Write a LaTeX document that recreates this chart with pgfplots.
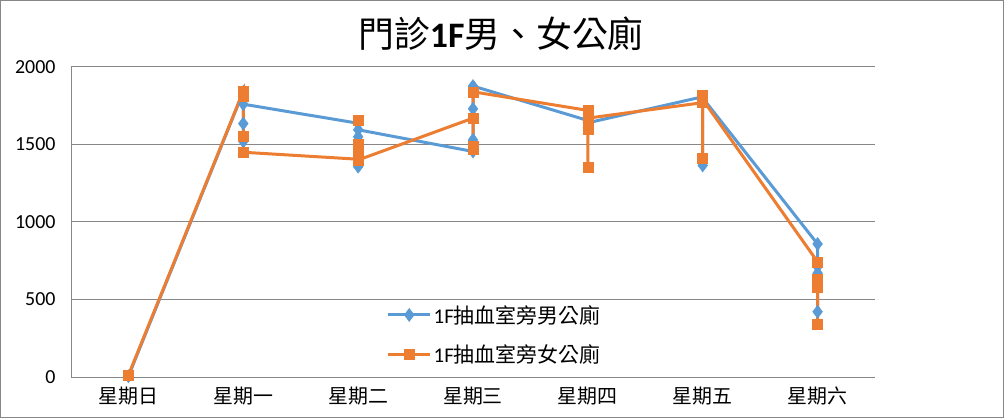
\documentclass[border=0pt]{standalone}
\usepackage{fontspec}
\setmainfont{Carlito}
\newfontfamily\cjk{Noto Sans CJK TC}
\usepackage{pgfplots}
\pgfplotsset{compat=1.18}
\definecolor{xlblue}{HTML}{5B9BD5}
\definecolor{xlorange}{HTML}{ED7D31}
\definecolor{xlgrid}{HTML}{878787}

\begin{document}
\begin{tikzpicture}
\begin{axis}[
  at={(0,0)}, anchor=south west,
  scale only axis, width=804bp, height=310bp,
  xmin=-0.5, xmax=6.5, ymin=0, ymax=2000,
  xtick={0,...,6},
  xticklabels={{\cjk 星期日},{\cjk 星期一},{\cjk 星期二},{\cjk 星期三},{\cjk 星期四},{\cjk 星期五},{\cjk 星期六}},
  ytick={0,500,...,2000},
  ymajorgrids, grid style={xlgrid, line width=1bp},
  axis lines=left,
  axis line style={xlgrid, line width=1bp, -},
  tick style={draw=none}, major tick length=0pt,
  /pgf/number format/assume math mode=true,
  /pgf/number format/1000 sep={},
  scaled y ticks=false,
  ticklabel style={font=\fontsize{20}{24}\selectfont},
  yticklabel style={xshift=-12bp},
  xticklabel style={yshift=-6bp},
  legend style={at={(0.39,0.245)}, anchor=north west, draw=none, fill=white,
    font=\fontsize{21}{25}\selectfont, row sep=16bp, inner sep=2bp},
  legend cell align=left,
  legend image code/.code={\draw[mark repeat=2,mark phase=2] plot coordinates {(0cm,0cm) (0.74cm,0cm) (1.48cm,0cm)};},
  every axis plot/.append style={line width=3bp},
]
\addplot[xlblue, mark=diamond*, mark size=6.5bp, mark options={solid, line width=0.5bp}] coordinates {
  (0,5)
  (1,1840) (1,1520) (1,1635) (1,1760)
  (2,1637) (2,1357) (2,1550) (2,1595)
  (3,1455) (3,1530) (3,1730) (3,1877)
  (4,1655) (4,1610) (4,1640)
  (5,1808) (5,1365) (5,1800)
  (6,858) (6,421) (6,670) (6,712)
};
\addlegendentry{1F{\cjk 抽血室旁男公廁}}
\addplot[xlorange, mark=square*, mark size=5bp, mark options={solid, line width=0.5bp}] coordinates {
  (0,12)
  (1,1845) (1,1810) (1,1555) (1,1450)
  (2,1405) (2,1658) (2,1500) (2,1460) (2,1400)
  (3,1670) (3,1490) (3,1470) (3,1840)
  (4,1720) (4,1355) (4,1600) (4,1660) (4,1670)
  (5,1770) (5,1410) (5,1815) (5,1790)
  (6,743) (6,342) (6,580) (6,630)
};
\addlegendentry{1F{\cjk 抽血室旁女公廁}}
\end{axis}
\node[font=\fontsize{36}{41}\selectfont] at (430bp,343bp) {{\cjk 門診}\textbf{1F}{\cjk 男、女公廁}};
\draw[xlgrid, line width=1bp] (-70.5bp,-40.5bp) rectangle (932.5bp,376.5bp);
\end{tikzpicture}
\end{document}
